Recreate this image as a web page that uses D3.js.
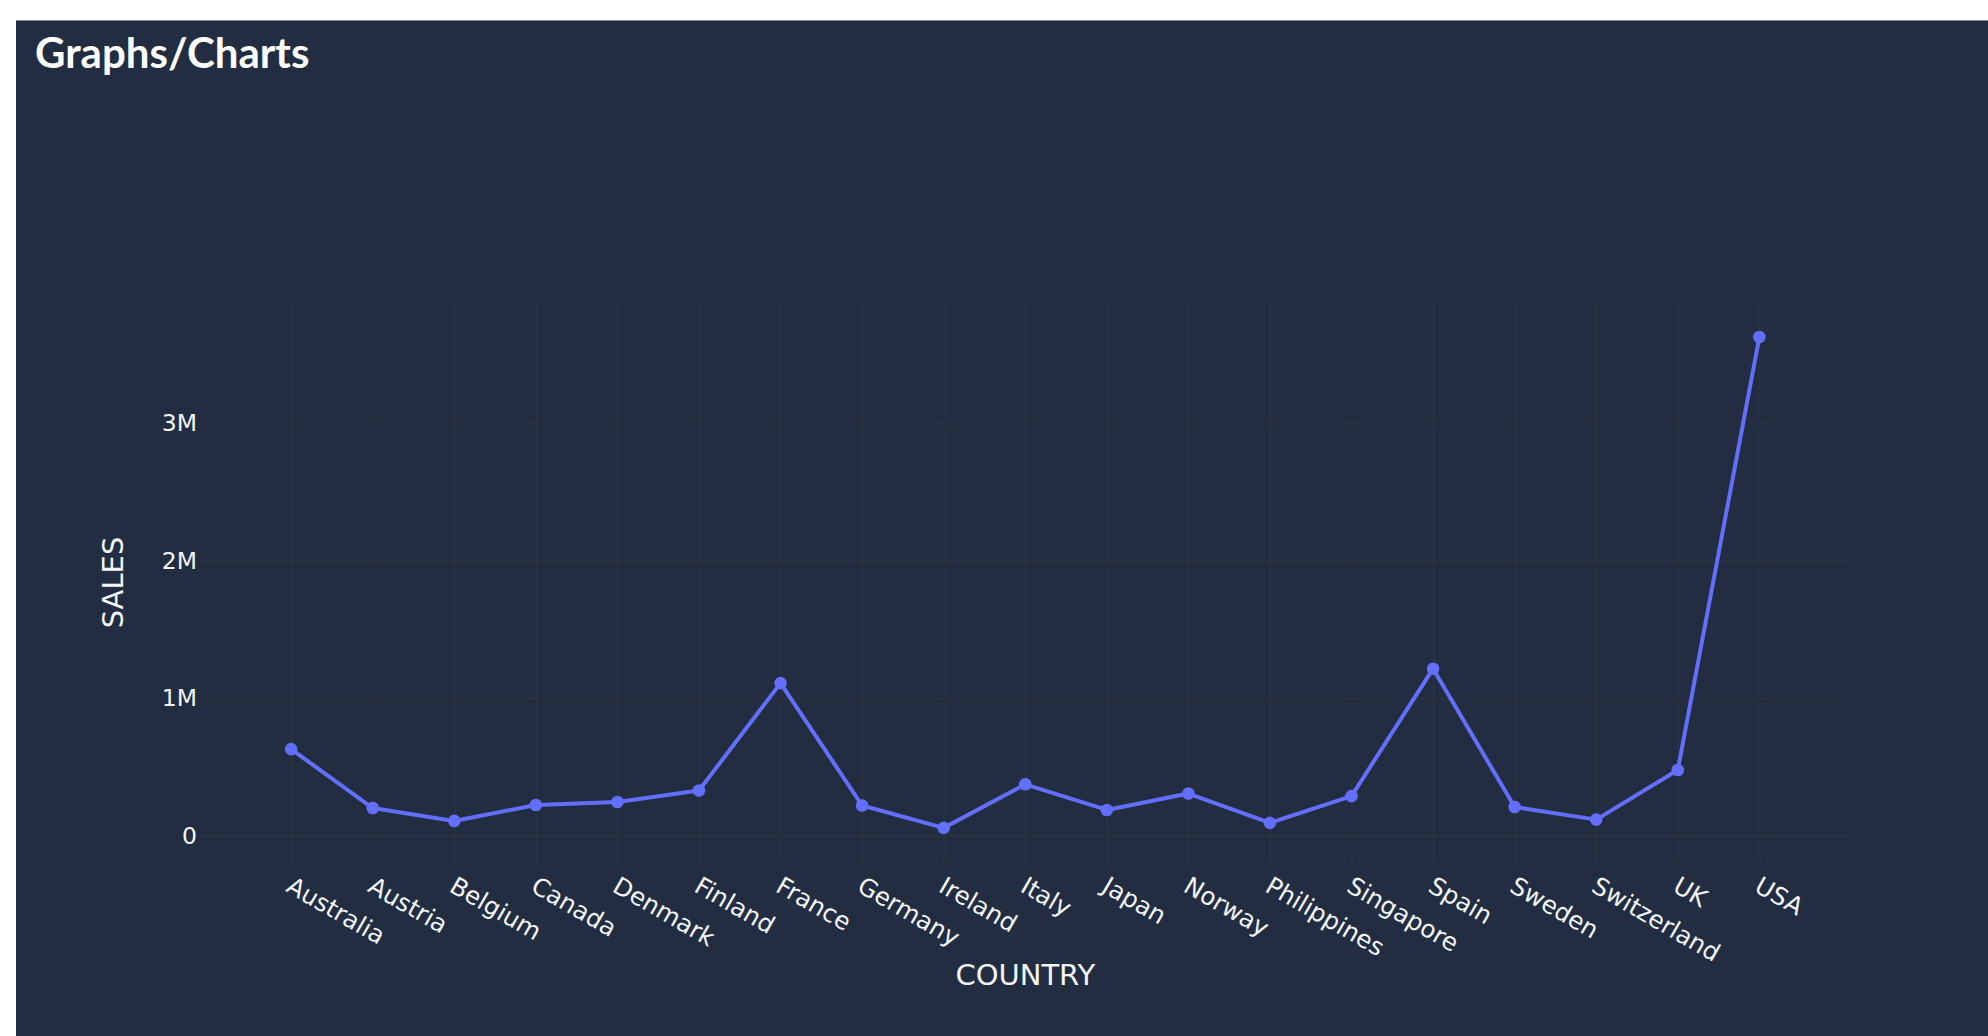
<!DOCTYPE html>
<html>
<head>
<meta charset="utf-8">
<script src="https://cdn.jsdelivr.net/npm/d3@7"></script>
<style>
	body { margin: 0; background: #ffffff; }
</style>
</head>
<body>
<div id="chart"></div>
<script>
//page dimensions
var xSize = 1988;
var ySize = 1036;

//data: total sales per country
var countries = ["Australia", "Austria", "Belgium", "Canada", "Denmark", "Finland", "France",
	"Germany", "Ireland", "Italy", "Japan", "Norway", "Philippines", "Singapore", "Spain",
	"Sweden", "Switzerland", "UK", "USA"];
var sales = [630623, 202063, 108413, 224079, 245637, 329582, 1110917,
	220472, 57756, 374674, 188168, 307464, 94016, 288488, 1215687,
	210014, 117714, 478880, 3627983];
var yTicks = [0, 1000000, 2000000, 3000000];

var rows = countries.map(function(c, i){
	return {country: c, sales: sales[i]};
});

//plot area (names avoid window.top)
var plotLeft = 201, plotRight = 1849.5, plotTop = 302.5, plotBottom = 862.5;

var svg = d3.select("#chart").append("svg")
	.attr("width", xSize)
	.attr("height", ySize);

//dark card
svg.append("rect")
	.attr("x", 16)
	.attr("y", 20)
	.attr("width", xSize - 16)
	.attr("height", ySize - 20)
	.attr("fill", "#222d41");
svg.append("line")
	.attr("x1", 16).attr("x2", xSize)
	.attr("y1", 20.5).attr("y2", 20.5)
	.attr("stroke", "#8a8f97")
	.attr("stroke-width", 1);

svg.append("text")
	.attr("x", 35)
	.attr("y", 68)
	.attr("font-family", "Lato")
	.attr("font-weight", "bold")
	.attr("font-size", 42)
	.attr("fill", "#ffffff")
	.text("Graphs/Charts");

var x = d3.scalePoint()
	.domain(countries)
	.range([plotLeft, plotRight])
	.padding(1.105);

var y = d3.scaleLinear()
	.domain([-194000, 3879000])
	.range([plotBottom, plotTop]);

var gridColor = "#2b3440";
var textColor = "#f2f5fa";
var font = "DejaVu Sans, Verdana, sans-serif";

//vertical grid lines + rotated category labels
var xAxis = svg.append("g")
	.attr("transform", "translate(0," + plotBottom + ")")
	.call(d3.axisBottom(x).tickSize(-(plotBottom - plotTop)).tickPadding(0));
xAxis.select(".domain").remove();
xAxis.selectAll("line")
	.attr("stroke", gridColor)
	.attr("stroke-width", 1.5);
xAxis.selectAll("text")
	.attr("font-family", font)
	.attr("font-size", 24.5)
	.attr("fill", textColor)
	.attr("text-anchor", "start")
	.attr("y", 0)
	.attr("dy", "0.72em")
	.attr("transform", "translate(2,13) rotate(30)");

//horizontal grid lines + value labels
var yAxis = svg.append("g")
	.attr("transform", "translate(" + plotLeft + ",0)")
	.call(d3.axisLeft(y).tickValues(yTicks).tickFormat(d3.format("~s"))
		.tickSize(-(plotRight - plotLeft)).tickPadding(4));
yAxis.select(".domain").remove();
yAxis.selectAll("line")
	.attr("stroke", gridColor)
	.attr("stroke-width", 1.5);
yAxis.selectAll("text")
	.attr("font-family", font)
	.attr("font-size", 23.5)
	.attr("fill", textColor);

//axis titles
svg.append("text")
	.attr("x", (plotLeft + plotRight) / 2)
	.attr("y", 985)
	.attr("text-anchor", "middle")
	.attr("font-family", font)
	.attr("font-size", 29)
	.attr("fill", textColor)
	.text("COUNTRY");

svg.append("text")
	.attr("transform", "translate(123," + (plotTop + plotBottom) / 2 + ") rotate(-90)")
	.attr("text-anchor", "middle")
	.attr("font-family", font)
	.attr("font-size", 29)
	.attr("fill", textColor)
	.text("SALES");

//the line
var line = d3.line()
	.x(function(row){ return x(row.country); })
	.y(function(row){ return y(row.sales); });

svg.append("path")
	.datum(rows)
	.attr("d", line)
	.attr("fill", "none")
	.attr("stroke", "#636efa")
	.attr("stroke-width", 4)
	.attr("stroke-linejoin", "round");

svg.selectAll("circle")
	.data(rows)
	.enter()
	.append("circle")
	.attr("cx", function(row){ return x(row.country); })
	.attr("cy", function(row){ return y(row.sales); })
	.attr("r", 6.3)
	.attr("fill", "#636efa");
</script>
</body>
</html>
